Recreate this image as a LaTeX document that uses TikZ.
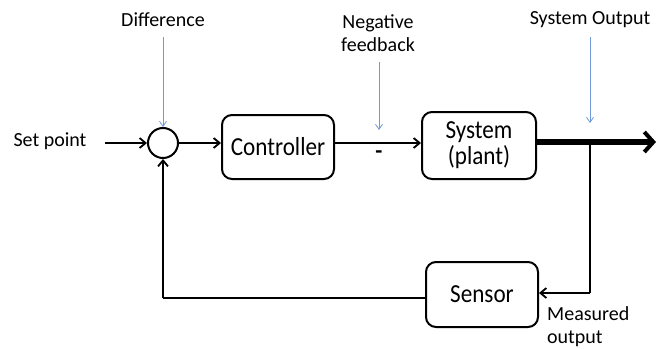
\documentclass[tikz,border=0pt]{standalone}
\usepackage{fontspec}
\setmainfont{Carlito}
\newfontfamily\boxfont[FakeStretch=0.89]{Carlito}
\usetikzlibrary{arrows.meta}
\definecolor{lblue}{RGB}{110,155,215}
\tikzset{
  blk/.style={draw, line width=2pt, rounded corners=10pt, align=center, font=\boxfont\fontsize{26}{26}\selectfont},
  lbl/.style={font=\fontsize{20}{23}\selectfont, inner sep=0pt, align=center},
  sig/.style={line width=1.8pt, -{Straight Barb[length=6pt,width=10pt,line width=1.8pt]}},
  note/.style={lblue, line width=0.8pt, -{Straight Barb[length=5pt,width=7pt,line width=0.8pt]}}
}
\begin{document}
\begin{tikzpicture}[x=1pt,y=-1pt]
\useasboundingbox (0,0) rectangle (658,348);
\node[draw, circle, line width=2pt, minimum size=30pt, inner sep=0pt] (sum) at (163,143) {};
\node[blk, minimum width=112pt, minimum height=64pt] (ctrl) at (278,147) {Controller};
\node[blk, minimum width=114pt, minimum height=67pt] (sys) at (479,145.5) {System\\(plant)};
\node[blk, minimum width=112pt, minimum height=65pt] (sens) at (482,294.5) {Sensor};
\node[lbl] (sp) at (50,141) {Set point};
\coordinate (spend) at (105,143);
\coordinate (out) at (656,142);
\coordinate (br) at (590,142);
\coordinate (brd) at (590,293);
\coordinate (fb) at (163,298);
% signal arrows
\draw[sig] (spend) -- (sum.west);
\draw[sig] (sum.east) -- (ctrl.west |- sum.east);
\draw[sig] (ctrl.east |- sum.east) -- (sys.west |- sum.east);
\draw[line width=6pt, -{Straight Barb[length=9pt,width=20pt,line width=4pt]}] (sys.east |- out) -- (out);
\draw[line width=1.8pt] (br) -- (brd);
\draw[sig] (brd) -- (sens.east |- brd);
\draw[line width=1.8pt] (sens.west |- fb) -- (fb);
\draw[sig] (fb) -- (sum.south);
% labels
\node[lbl] (diff) at (163,20) {Difference};
\coordinate (diffa) at (163,37);
\draw[note] (diffa) -- (sum.north);
\node[lbl] (neg) at (378,33) {Negative\\feedback};
\coordinate (nega) at (379,62);
\coordinate (negb) at (379,130);
\draw[note] (nega) -- (negb);
\node[font=\fontsize{23}{27}\selectfont\bfseries, inner sep=0pt] (minus) at (379,155) {-};
\node[lbl] (so) at (590,20) {System Output};
\coordinate (soa) at (590,37);
\coordinate (sob) at (590,123);
\draw[note] (soa) -- (sob);
\node[lbl, anchor=west, align=left] (mo) at (547,327) {Measured\\output};
\end{tikzpicture}
\end{document}
